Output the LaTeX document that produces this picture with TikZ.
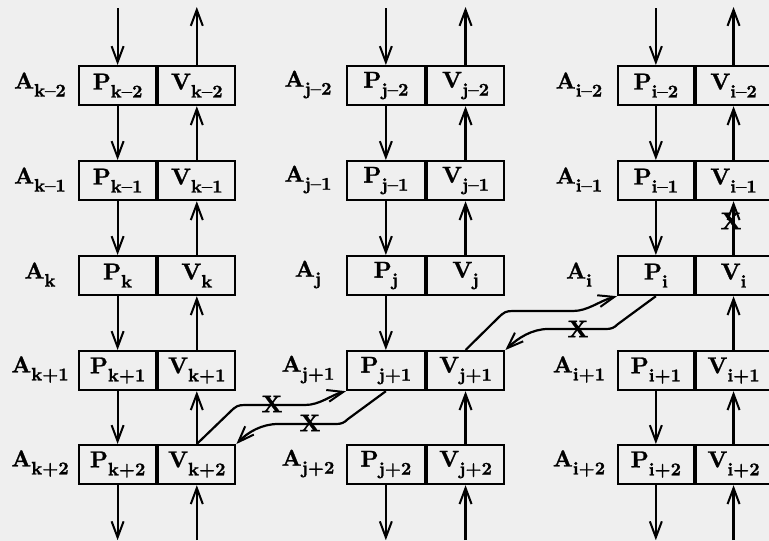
\documentclass[tikz,border=0pt]{standalone}
\usepackage{fontspec}
\usetikzlibrary{arrows.meta}

\definecolor{paper}{RGB}{239,239,239}
% heavy bold roman for all labels
\newfontfamily\heavy{lmroman10-bold.otf}[FakeBold=1.2]
% bold letter with a lowered bold subscript, as in A_{k-2}
\newcommand\lbl[2]{{\heavy #1}\raisebox{-8pt}{\fontsize{18}{18}\heavy #2}}

\begin{document}
\begin{tikzpicture}[x=1pt,y=-1pt,
  txt/.style={font=\fontsize{23}{26}\heavy},
  cell/.style={txt, draw, line width=2.2pt, minimum height=39pt, inner sep=0pt, anchor=north west},
  arr/.style={line width=2.2pt, -{Straight Barb[length=16pt,width=12pt,line width=2pt]}},
  cross/.style={font=\fontsize{24}{26}\heavy, inner sep=0pt}
]
\fill[paper] (0,0) rectangle (769,541);
\useasboundingbox (0,0) rectangle (769,541);

% three columns of P/V cells with their A labels
\foreach \c/\x/\w in {k/78/77, j/346/77.5, i/617/75.5} {
  \foreach \r/\y/\s in {1/65/{–2}, 2/160/{–1}, 3/255/{}, 4/350/{+1}, 5/444/{+2}} {
    \node[cell, minimum width=\w pt] (P\c\r) at (\x,\y) {\lbl{P}{\c\s}};
    \node[cell, minimum width=\w pt] (V\c\r) at (P\c\r.north east) {\lbl{V}{\c\s}};
    \node[txt] (A\c\r) at ({\x-38},{\y+19.5}) {\lbl{A}{\c\s}};
  }
  % free ends of the incoming and outgoing arrows
  \path (P\c1.north) ++(0,-57) coordinate (tP\c);
  \path (V\c1.north) ++(0,-58) coordinate (tV\c);
  \path (P\c5.south) ++(0,55) coordinate (bP\c);
  \path (V\c5.south) ++(0,55) coordinate (bV\c);
  \draw[arr] (tP\c) -- (P\c1.north);
  \draw[arr] (V\c1.north) -- (tV\c);
  \draw[arr] (P\c5.south) -- (bP\c);
  \draw[arr] (bV\c) -- (V\c5.south);
}

% column k: full chains
\draw[arr] (Pk1.south) -- (Pk2.north);
\draw[arr] (Pk2.south) -- (Pk3.north);
\draw[arr] (Pk3.south) -- (Pk4.north);
\draw[arr] (Pk4.south) -- (Pk5.north);
\draw[arr] (Vk2.north) -- (Vk1.south);
\draw[arr] (Vk3.north) -- (Vk2.south);
\draw[arr] (Vk4.north) -- (Vk3.south);
\draw[arr] (Vk5.north) -- (Vk4.south);

% column j
\draw[arr] (Pj1.south) -- (Pj2.north);
\draw[arr] (Pj2.south) -- (Pj3.north);
\draw[arr] (Pj3.south) -- (Pj4.north);
\draw[arr] (Vj2.north) -- (Vj1.south);
\draw[arr] (Vj3.north) -- (Vj2.south);
\draw[arr] (Vj5.north) -- (Vj4.south);

% column i
\draw[arr] (Pi1.south) -- (Pi2.north);
\draw[arr] (Pi2.south) -- (Pi3.north);
\draw[arr] (Pi4.south) -- (Pi5.north);
\draw[arr] (Vi2.north) -- (Vi1.south);
\draw[arr] (Vi3.north) -- (Vi2.south);
\draw[arr] (Vi4.north) -- (Vi3.south);
\draw[arr] (Vi5.north) -- (Vi4.south);
\node[cross] (xi) at (731,221) {X};

% crossing links between columns k and j
\draw[arr] (Vk5.north) -- (230,412) .. controls (236,406) and (238,405) .. (245,405)
  -- (305,405) .. controls (320,405) and (331,395) .. (Pj4.south west);
\draw[arr] (Pj4.south) -- (348,419) .. controls (344,423) and (341,424) .. (336,424)
  -- (278,424) .. controls (262,424) and (248,432) .. (Vk5.north east);
\node[cross] (xk1) at (272,404) {X};
\node[cross] (xk2) at (310,423) {X};

% crossing links between columns j and i
\draw[arr] (Vj4.north) -- (498,318) .. controls (504,312) and (506,311) .. (513,311)
  -- (573,311) .. controls (588,311) and (599,301) .. (Pi3.south west);
\draw[arr] (Pi3.south) -- (618,324) .. controls (614,328) and (611,329) .. (606,329)
  -- (548,329) .. controls (532,329) and (518,338) .. (Vj4.north east);
\node[cross] (xj) at (578,329) {X};
\end{tikzpicture}
\end{document}
